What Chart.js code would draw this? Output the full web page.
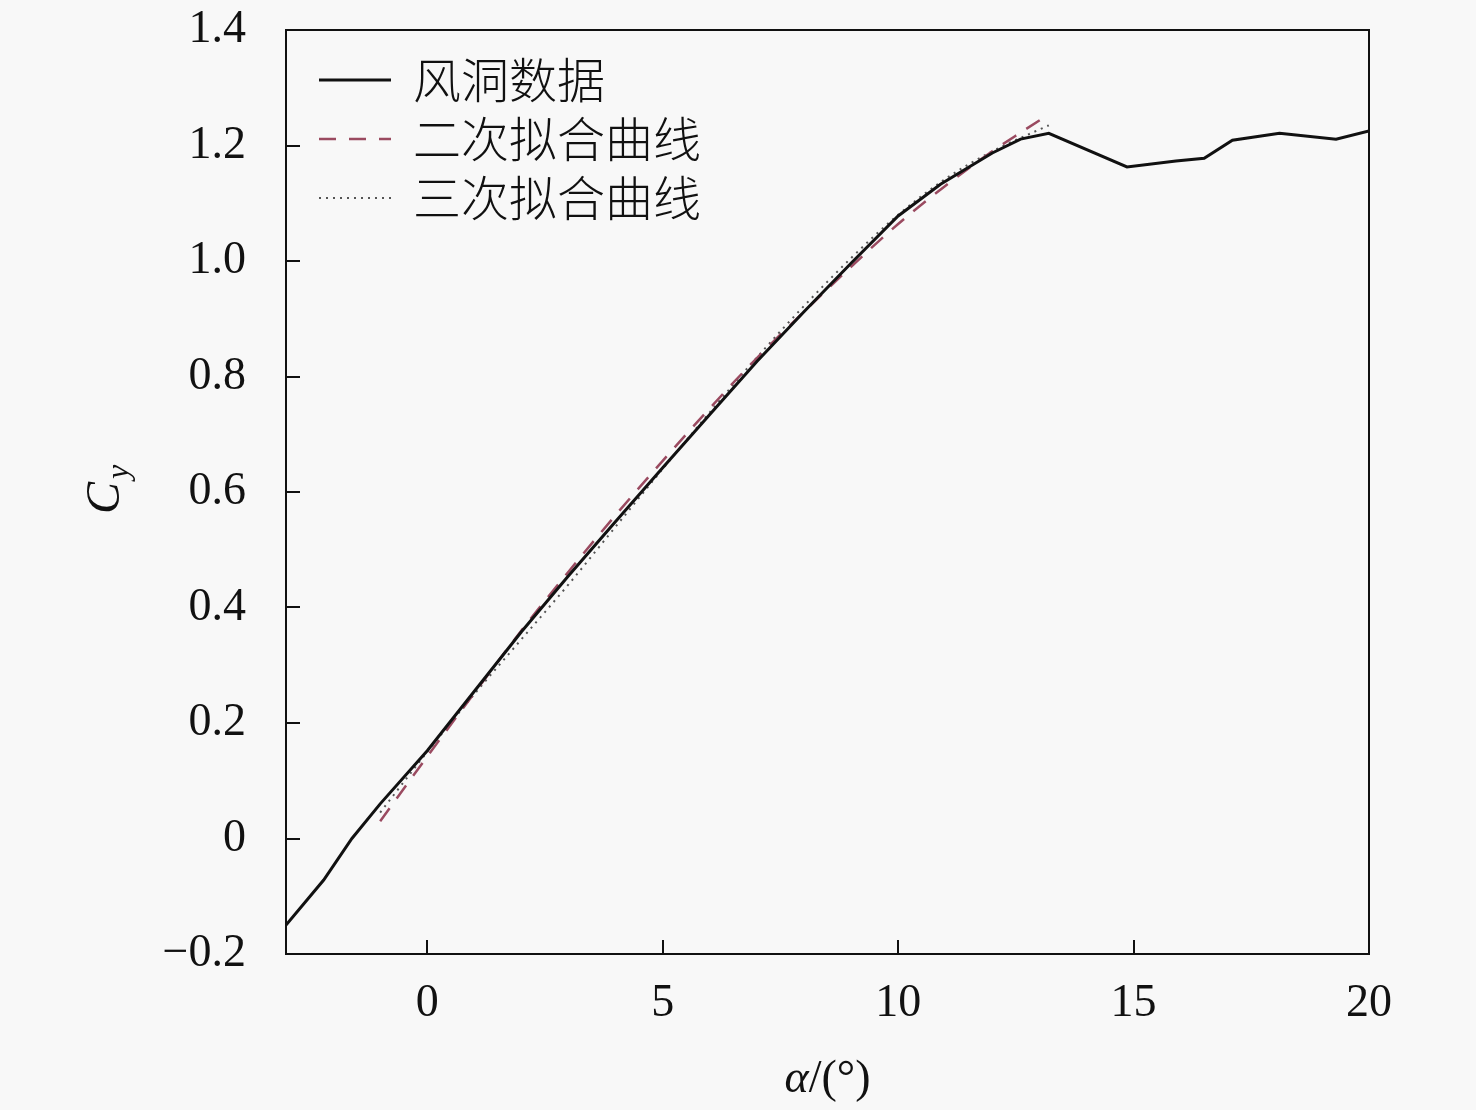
<!DOCTYPE html>
<html>
<head>
<meta charset="utf-8">
<script src="https://cdn.jsdelivr.net/npm/chart.js@4.4.0/dist/chart.umd.min.js"></script>
<style>
  html, body { margin: 0; padding: 0; background: #f8f8f8; }
  #wrap { width: 1476px; height: 1110px; }
</style>
</head>
<body>
<div id="wrap"><canvas id="chart" width="1476" height="1110"></canvas></div>
<script>
// 风洞数据 (攻角 α, 升力系数 Cy)
var windAlpha = [-3, -2.2, -1.6, -1, 0, 1, 2, 3, 4, 5, 6, 7, 8, 9, 10, 10.9, 12, 12.6, 13.2, 14.86, 15.9, 16.5, 17.1, 18.1, 19.3, 20];
var windCy    = [-0.150, -0.072, 0.000, 0.060, 0.152, 0.255, 0.358, 0.455, 0.549, 0.642, 0.734, 0.826, 0.912, 0.996, 1.078, 1.133, 1.187, 1.211, 1.221, 1.163, 1.173, 1.178, 1.209, 1.221, 1.211, 1.225];

// 二次拟合曲线
var quadAlpha = [-1, 0, 1, 2, 3, 4, 5, 6, 7, 8, 9, 10, 11, 12, 12.65, 13.2];
var quadCy    = [0.030, 0.142, 0.252, 0.360, 0.462, 0.560, 0.654, 0.745, 0.832, 0.912, 0.990, 1.064, 1.130, 1.190, 1.225, 1.254];

// 三次拟合曲线
var cubicAlpha = [-1, 0, 1, 2, 3, 4, 5, 6, 7, 8, 9, 10, 11, 12, 13.2];
var cubicCy    = [0.045, 0.150, 0.250, 0.345, 0.440, 0.540, 0.640, 0.738, 0.833, 0.922, 1.005, 1.080, 1.142, 1.190, 1.235];

var xTicks = [0, 5, 10, 15, 20];
var yTicks = [-0.2, 0, 0.2, 0.4, 0.6, 0.8, 1.0, 1.2, 1.4];
var yTickLabels = ['\u22120.2', '0', '0.2', '0.4', '0.6', '0.8', '1.0', '1.2', '1.4'];

var legendNames = ['风洞数据', '二次拟合曲线', '三次拟合曲线'];

function toPoints(xs, ys) {
    return xs.map(function(x, i) { return { x: x, y: ys[i] }; });
}

var serif = '"Liberation Serif", "Times New Roman", serif';
var cjk = '"Noto Sans CJK SC", sans-serif';

// 边框、内向刻度、坐标轴标题和图例
var decorPlugin = {
    id: 'decor',
    afterDraw: function(chart) {
        var ctx = chart.ctx;
        var a = chart.chartArea;
        var xs = chart.scales.x, ys = chart.scales.y;
        ctx.save();
        ctx.strokeStyle = '#111';
        ctx.lineWidth = 2;
        ctx.setLineDash([]);
        ctx.strokeRect(a.left, a.top, a.right - a.left, a.bottom - a.top);

        // 刻度线向内
        ctx.beginPath();
        xTicks.forEach(function(v) {
            var px = Math.round(xs.getPixelForValue(v));
            ctx.moveTo(px, a.bottom);
            ctx.lineTo(px, a.bottom - 14);
        });
        yTicks.forEach(function(v) {
            var py = Math.round(ys.getPixelForValue(v));
            ctx.moveTo(a.left, py);
            ctx.lineTo(a.left + 14, py);
        });
        ctx.stroke();

        // x 轴标题 α/(°)
        ctx.fillStyle = '#111';
        ctx.textBaseline = 'middle';
        ctx.textAlign = 'left';
        ctx.font = 'italic 46px ' + serif;
        var w1 = ctx.measureText('α').width;
        ctx.font = '46px ' + serif;
        var w2 = ctx.measureText('/(°)').width;
        var cx = (a.left + a.right) / 2 - (w1 + w2) / 2;
        ctx.font = 'italic 46px ' + serif;
        ctx.fillText('α', cx, 1080);
        ctx.font = '46px ' + serif;
        ctx.fillText('/(°)', cx + w1, 1080);

        // y 轴标题 Cy
        ctx.save();
        ctx.translate(106, 492);
        ctx.rotate(-Math.PI / 2);
        ctx.font = 'italic 48px ' + serif;
        ctx.textAlign = 'center';
        ctx.fillText('C', -6, 0);
        ctx.font = 'italic 32px ' + serif;
        ctx.fillText('y', 20, 14);
        ctx.restore();

        // 图例
        var rows = [80, 139, 198];
        chart.data.datasets.forEach(function(ds, i) {
            ctx.beginPath();
            ctx.strokeStyle = ds.borderColor;
            ctx.lineWidth = ds.borderWidth;
            ctx.setLineDash(ds.legendDash || []);
            ctx.moveTo(319, rows[i]);
            ctx.lineTo(391, rows[i]);
            ctx.stroke();
            ctx.setLineDash([]);
            ctx.fillStyle = '#111';
            ctx.font = '300 48px ' + cjk;
            ctx.textAlign = 'left';
            ctx.textBaseline = 'middle';
            ctx.fillText(legendNames[i], 413, rows[i]);
        });
        ctx.restore();
    }
};

var ctx = document.getElementById('chart').getContext('2d');
var chart = new Chart(ctx, {
    type: 'line',
    data: {
        datasets: [{
            label: legendNames[0],
            data: toPoints(windAlpha, windCy),
            borderColor: '#111111',
            borderWidth: 3,
            pointRadius: 0,
            tension: 0,
            legendDash: []
        }, {
            label: legendNames[1],
            data: toPoints(quadAlpha, quadCy),
            borderColor: '#9a4a60',
            borderWidth: 2.5,
            borderDash: [16, 12],
            legendDash: [17, 13],
            pointRadius: 0,
            cubicInterpolationMode: 'monotone'
        }, {
            label: legendNames[2],
            data: toPoints(cubicAlpha, cubicCy),
            borderColor: '#555555',
            borderWidth: 2,
            borderDash: [2, 5],
            legendDash: [2, 5],
            pointRadius: 0,
            cubicInterpolationMode: 'monotone'
        }]
    },
    options: {
        responsive: false,
        animation: false,
        layout: { padding: { left: 0, top: 30, right: 107, bottom: 0 } },
        plugins: {
            legend: { display: false },
            tooltip: { enabled: false }
        },
        scales: {
            x: {
                type: 'linear',
                min: -3,
                max: 20,
                afterBuildTicks: function(scale) {
                    scale.ticks = xTicks.map(function(v) { return { value: v }; });
                },
                afterFit: function(scale) {
                    scale.height = 156;
                    scale.paddingLeft = 0;
                    scale.paddingRight = 0;
                },
                grid: { display: false, drawTicks: false },
                border: { display: false },
                ticks: {
                    padding: 22,
                    color: '#111',
                    font: { family: serif, size: 46 },
                    maxRotation: 0
                }
            },
            y: {
                type: 'linear',
                min: -0.2,
                max: 1.4,
                afterBuildTicks: function(scale) {
                    scale.ticks = yTicks.map(function(v) { return { value: v }; });
                },
                afterFit: function(scale) {
                    scale.width = 286;
                    scale.paddingTop = 0;
                    scale.paddingBottom = 0;
                },
                grid: { display: false, drawTicks: false },
                border: { display: false },
                ticks: {
                    padding: 40,
                    color: '#111',
                    font: { family: serif, size: 46 },
                    callback: function(value) {
                        var i = yTicks.findIndex(function(t) { return Math.abs(t - value) < 1e-9; });
                        return i >= 0 ? yTickLabels[i] : '';
                    }
                }
            }
        }
    },
    plugins: [decorPlugin]
});
</script>
</body>
</html>
